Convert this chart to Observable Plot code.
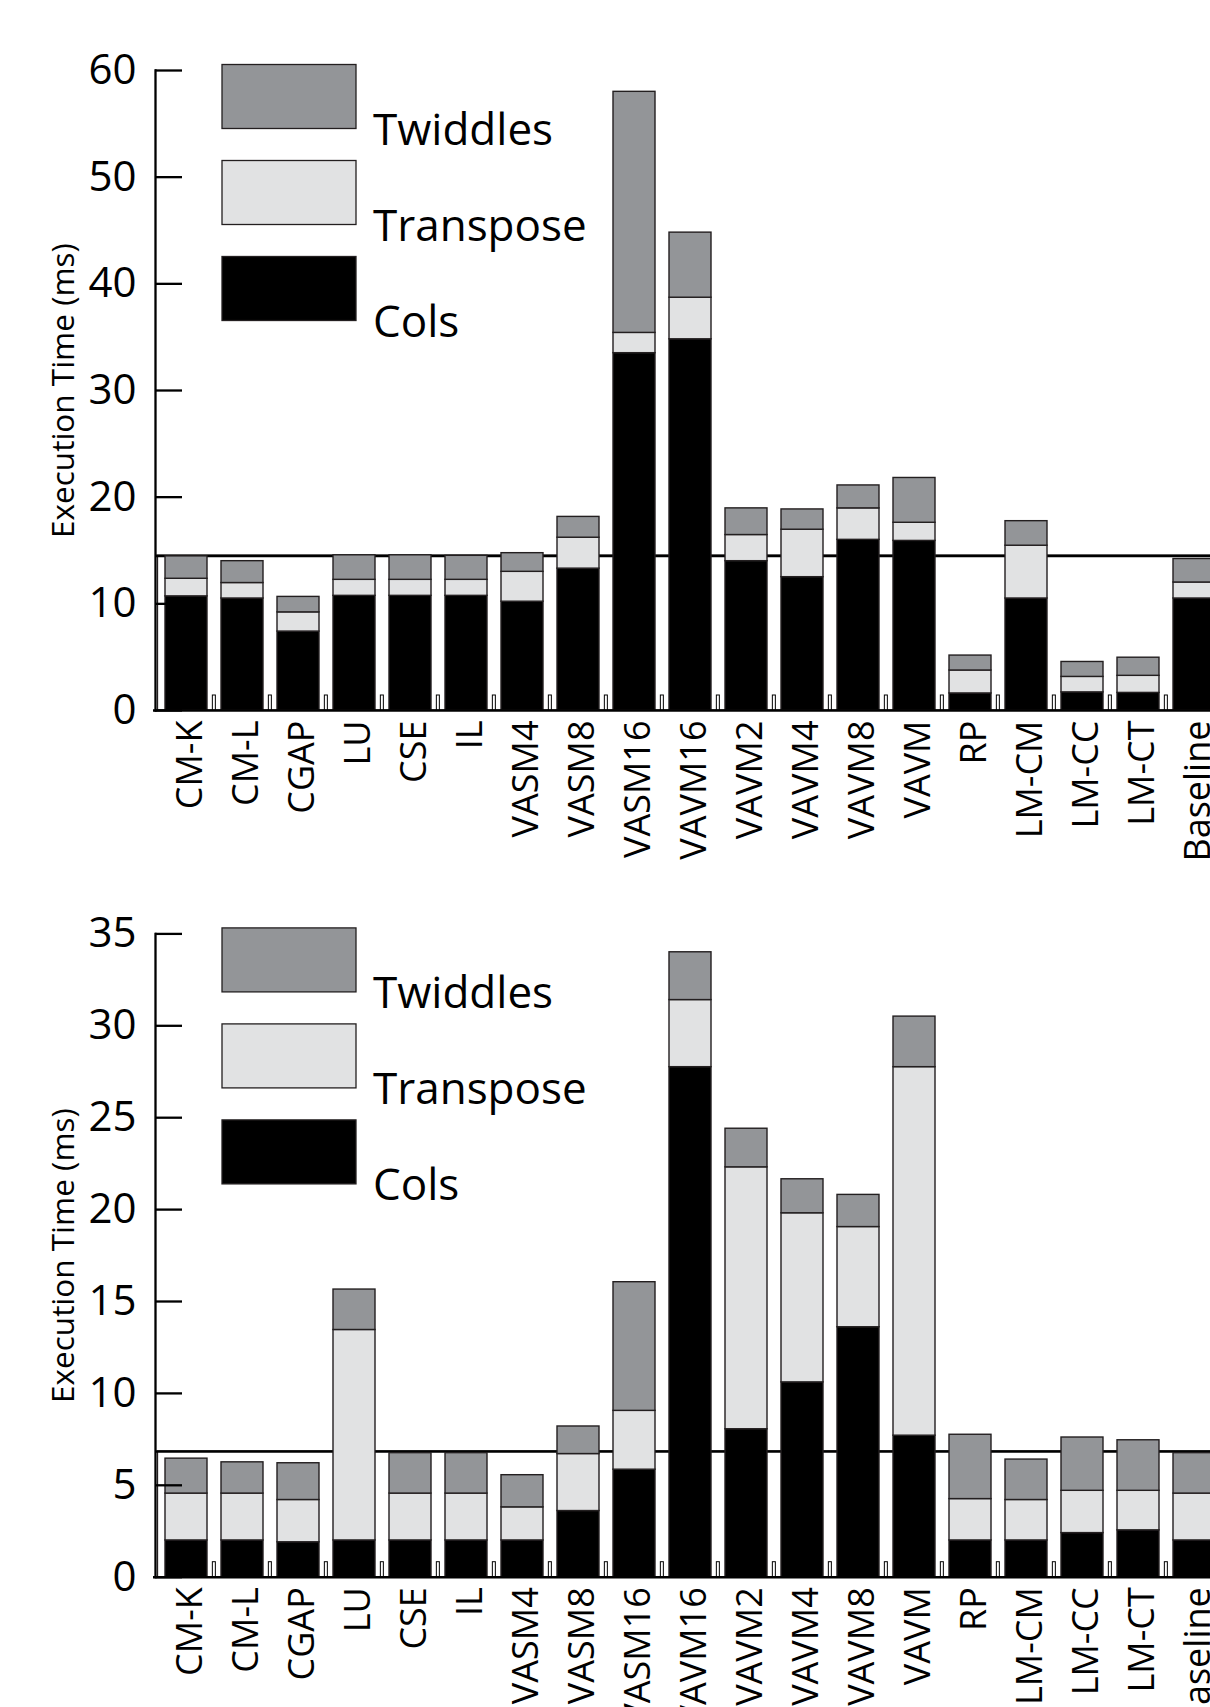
<!DOCTYPE html>
<html><head><meta charset="utf-8">
<script src="https://cdn.jsdelivr.net/npm/d3@7"></script>
<script src="https://cdn.jsdelivr.net/npm/@observablehq/plot@0.6"></script>
<style>
html,body{margin:0;padding:0;background:#fff;overflow:hidden;width:1210px;height:1707px;}
#charts svg{display:block;max-width:none !important;}
</style></head><body><div id="charts"></div>
<script>
const categories = ["CM-K","CM-L","CGAP","LU","CSE","IL","VASM4","VASM8","VASM16","VAVM16","VAVM2","VAVM4","VAVM8","VAVM","RP","LM-CM","LM-CC","LM-CT","Baseline"];
const seriesNames = ["Cols","Transpose","Twiddles"];
const seriesColors = ["#000000","#e1e2e3","#939598"];
const legendOrder = ["Twiddles","Transpose","Cols"];
const yLabel = "Execution Time (ms)";

// top chart
const topCols      = [10.7,10.5,7.4,10.75,10.75,10.75,10.2,13.3,33.5,34.8,14.0,12.5,16.0,15.9,1.6,10.5,1.7,1.65,10.5];
const topTranspose = [1.65,1.45,1.8,1.5,1.5,1.5,2.8,2.9,1.9,3.9,2.45,4.45,2.95,1.7,2.15,4.95,1.45,1.6,1.5];
const topTwiddles  = [2.1,2.05,1.45,2.3,2.3,2.25,1.75,1.95,22.6,6.1,2.5,1.9,2.15,4.2,1.4,2.3,1.4,1.7,2.2];
const topBaseline  = 14.5;
const topTicks     = [0,10,20,30,40,50,60];

// bottom chart
const botCols      = [2.0,2.0,1.9,2.0,2.0,2.0,2.0,3.6,5.85,27.75,8.05,10.6,13.6,7.7,2.0,2.0,2.4,2.55,2.0];
const botTranspose = [2.55,2.55,2.3,11.45,2.55,2.55,1.8,3.1,3.2,3.65,14.25,9.2,5.45,20.05,2.25,2.2,2.3,2.15,2.55];
const botTwiddles  = [1.9,1.7,2.0,2.2,2.2,2.2,1.75,1.5,7.0,2.6,2.1,1.85,1.75,2.75,3.5,2.2,2.9,2.75,2.2];
const botBaseline  = 6.84;
const botTicks     = [0,5,10,15,20,25,30,35];

const FONT = "'Open Sans', sans-serif";
const OUTLINE = "#231f20";

function chart({cols, transpose, twiddles, baseline, ticks, marginTop, frameHeight, height}) {
  const rows = [];
  categories.forEach((c, i) => {
    rows.push({cat: c, series: "Cols", value: cols[i]});
    rows.push({cat: c, series: "Transpose", value: transpose[i]});
    rows.push({cat: c, series: "Twiddles", value: twiddles[i]});
  });
  const width = 1240, marginLeft = 155, marginRight = 15;
  const frameWidth = width - marginLeft - marginRight;
  const pInner = 0.254, pOuter = 0.13;
  const step = frameWidth / (categories.length - pInner + 2 * pOuter);
  const bw = step * (1 - pInner);
  const yMax = d3.max(ticks);
  const svg = Plot.plot({
    width, height, marginLeft, marginRight, marginTop,
    marginBottom: height - marginTop - frameHeight,
    style: {fontFamily: FONT, background: "white", color: "black", maxWidth: "none"},
    x: {domain: categories, paddingInner: pInner, paddingOuter: pOuter, align: 0.5, axis: null},
    y: {domain: [0, yMax], axis: null},
    color: {domain: seriesNames, range: seriesColors},
    marks: [
      Plot.rect([baseline], {y1: 0, y2: d => d, insetLeft: 2.5, fill: "none", stroke: OUTLINE, strokeWidth: 1.3}),
      Plot.ruleY([baseline], {stroke: "#000", strokeWidth: 2.6}),
      Plot.rect(categories.slice(1), {x: d => d, y1: 0, y2: yMax, insetLeft: (bw - 3) / 2, insetRight: (bw - 3) / 2,
        insetTop: frameHeight - 15, dx: -step / 2, fill: "white", stroke: "#000", strokeWidth: 1}),
      Plot.barY(rows, {x: "cat", y: "value", fill: "series", stroke: OUTLINE, strokeWidth: 1.4, order: seriesNames}),
      Plot.axisX({fontSize: 36, tickSize: 0, tickPadding: 10, tickRotate: -90, label: null, dx: 4, fill: "#000"}),
      Plot.axisY({ticks, tickSize: 0, tickPadding: 19, fontSize: 42, label: null, fill: "#000"}),
      Plot.tickY(ticks, {y: d => d, insetRight: frameWidth - 27, stroke: "#000", strokeWidth: 2.3}),
      Plot.frame({anchor: "left", stroke: "#000", strokeWidth: 2.3}),
      Plot.ruleY([0], {stroke: "#000", strokeWidth: 2.6, insetLeft: -2}),
      Plot.text([yLabel], {text: d => d, frameAnchor: "left", rotate: -90, dx: 73 - marginLeft,
        textAnchor: "middle", lineAnchor: "bottom", fontSize: 31.5, fill: "#000"})
    ]
  });
  svg.style.maxWidth = "none";
  // legend
  const g = d3.select(svg).append("g").attr("font-family", FONT).attr("text-anchor", "start");
  legendOrder.forEach((name, i) => {
    const top = marginTop - 5.5 + i * 96;
    g.append("rect").attr("x", 222).attr("y", top).attr("width", 134).attr("height", 64)
      .attr("fill", seriesColors[seriesNames.indexOf(name)]).attr("stroke", OUTLINE).attr("stroke-width", 1.3);
    g.append("text").attr("x", 373).attr("y", top + 64 + 16.5).attr("font-size", 44).attr("fill", "#000").text(name);
  });
  return svg;
}

const root = document.getElementById("charts");
root.appendChild(chart({cols: topCols, transpose: topTranspose, twiddles: topTwiddles, baseline: topBaseline,
  ticks: topTicks, marginTop: 70, frameHeight: 640, height: 860}));
root.appendChild(chart({cols: botCols, transpose: botTranspose, twiddles: botTwiddles, baseline: botBaseline,
  ticks: botTicks, marginTop: 73.4, frameHeight: 643.3, height: 847}));
</script>
</body></html>
